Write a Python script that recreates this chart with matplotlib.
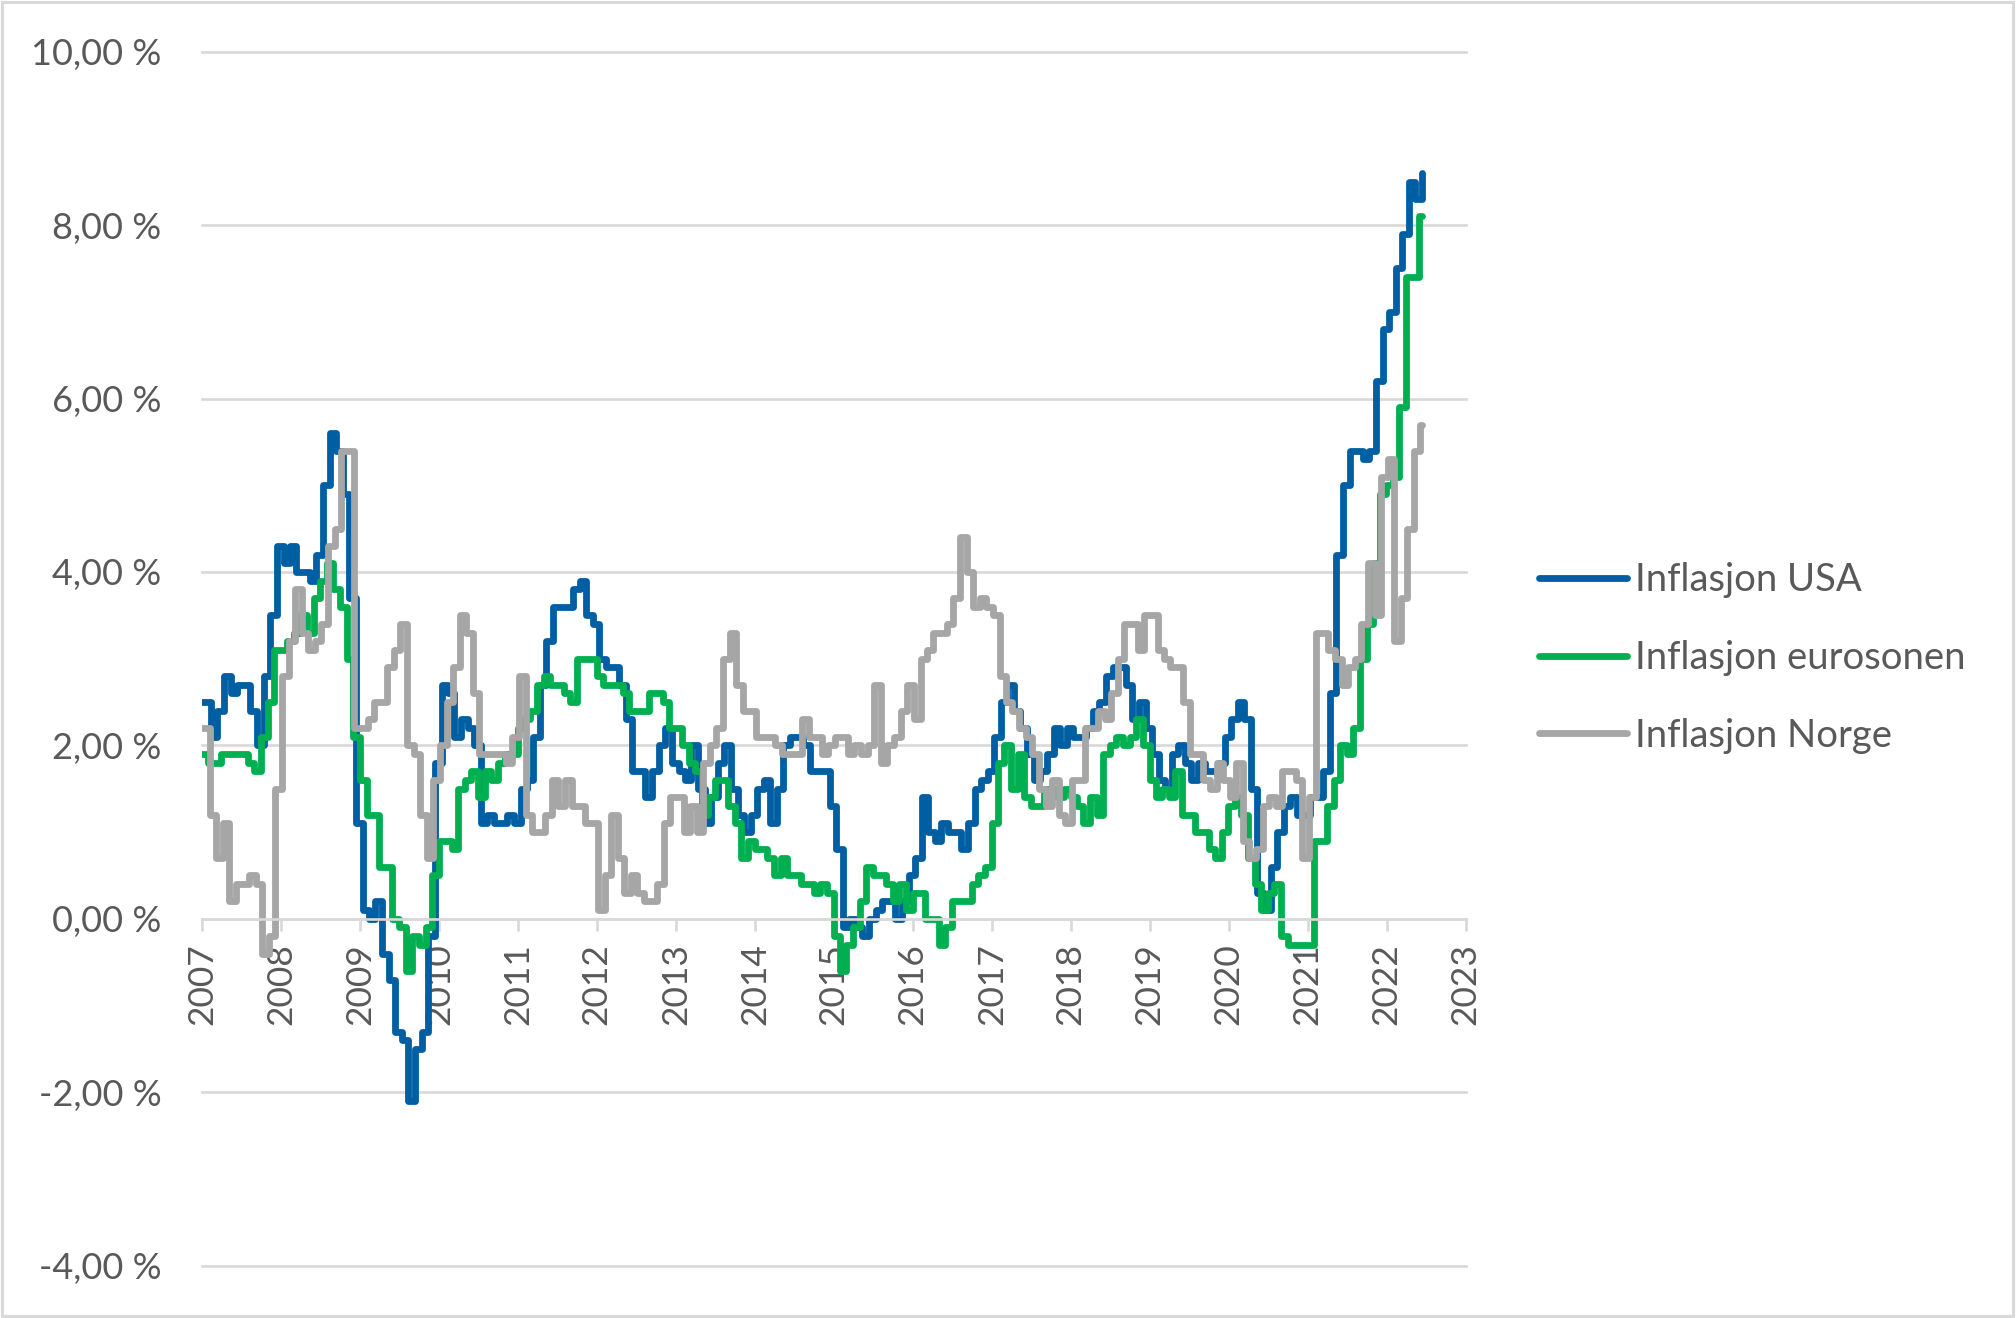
import pandas as pd
import matplotlib
matplotlib.use("Agg")
import matplotlib.pyplot as plt
from matplotlib.patches import Rectangle

plt.rcParams['font.family'] = ['Lato', 'DejaVu Sans']

# ---------------------------------------------------------
# DATA: 12-month inflation in %, monthly, Dec 2006 .. May 2022
# ---------------------------------------------------------
first_month = "2006-12"
last_month = "2022-05"

usa = [2.5,
       2.1, 2.4, 2.8, 2.6, 2.7, 2.7, 2.4, 2.0, 2.8, 3.5, 4.3, 4.1,        # 2007
       4.3, 4.0, 4.0, 3.9, 4.2, 5.0, 5.6, 5.4, 4.9, 3.7, 1.1, 0.1,        # 2008
       0.0, 0.2, -0.4, -0.7, -1.3, -1.4, -2.1, -1.5, -1.3, -0.2, 1.8, 2.7,  # 2009
       2.6, 2.1, 2.3, 2.2, 2.0, 1.1, 1.2, 1.1, 1.1, 1.2, 1.1, 1.5,        # 2010
       1.6, 2.1, 2.7, 3.2, 3.6, 3.6, 3.6, 3.8, 3.9, 3.5, 3.4, 3.0,        # 2011
       2.9, 2.9, 2.7, 2.3, 1.7, 1.7, 1.4, 1.7, 2.0, 2.2, 1.8, 1.7,        # 2012
       1.6, 2.0, 1.5, 1.1, 1.4, 1.8, 2.0, 1.5, 1.2, 1.0, 1.2, 1.5,        # 2013
       1.6, 1.1, 1.5, 2.0, 2.1, 2.1, 2.0, 1.7, 1.7, 1.7, 1.3, 0.8,        # 2014
       -0.1, 0.0, -0.1, -0.2, 0.0, 0.1, 0.2, 0.2, 0.0, 0.2, 0.5, 0.7,     # 2015
       1.4, 1.0, 0.9, 1.1, 1.0, 1.0, 0.8, 1.1, 1.5, 1.6, 1.7, 2.1,        # 2016
       2.5, 2.7, 2.4, 2.2, 1.9, 1.6, 1.7, 1.9, 2.2, 2.0, 2.2, 2.1,        # 2017
       2.1, 2.2, 2.4, 2.5, 2.8, 2.9, 2.9, 2.7, 2.3, 2.5, 2.2, 1.9,        # 2018
       1.6, 1.5, 1.9, 2.0, 1.8, 1.6, 1.8, 1.7, 1.7, 1.8, 2.1, 2.3,        # 2019
       2.5, 2.3, 1.5, 0.3, 0.1, 0.6, 1.0, 1.3, 1.4, 1.2, 1.2, 1.4,        # 2020
       1.4, 1.7, 2.6, 4.2, 5.0, 5.4, 5.4, 5.3, 5.4, 6.2, 6.8, 7.0,        # 2021
       7.5, 7.9, 8.5, 8.3, 8.6]                                          # 2022

eurosonen = [1.9,
             1.8, 1.8, 1.9, 1.9, 1.9, 1.9, 1.8, 1.7, 2.1, 2.5, 3.1, 3.1,
             3.2, 3.3, 3.5, 3.3, 3.7, 3.9, 4.1, 3.8, 3.6, 3.0, 2.1, 1.6,
             1.2, 1.2, 0.6, 0.6, 0.0, -0.1, -0.6, -0.2, -0.3, -0.1, 0.5, 0.9,
             0.9, 0.8, 1.5, 1.6, 1.7, 1.4, 1.7, 1.6, 1.8, 1.9, 1.9, 2.2,
             2.3, 2.4, 2.7, 2.8, 2.7, 2.7, 2.6, 2.5, 3.0, 3.0, 3.0, 2.8,
             2.7, 2.7, 2.7, 2.6, 2.4, 2.4, 2.4, 2.6, 2.6, 2.5, 2.2, 2.2,
             2.0, 1.8, 1.7, 1.2, 1.4, 1.6, 1.6, 1.3, 1.1, 0.7, 0.9, 0.8,
             0.8, 0.7, 0.5, 0.7, 0.5, 0.5, 0.4, 0.4, 0.3, 0.4, 0.3, -0.2,
             -0.6, -0.3, -0.1, 0.2, 0.6, 0.5, 0.5, 0.4, 0.2, 0.4, 0.1, 0.3,
             0.3, 0.0, 0.0, -0.3, -0.1, 0.2, 0.2, 0.2, 0.4, 0.5, 0.6, 1.1,
             1.8, 2.0, 1.5, 1.9, 1.4, 1.3, 1.3, 1.5, 1.5, 1.4, 1.5, 1.4,
             1.3, 1.1, 1.4, 1.2, 1.9, 2.0, 2.1, 2.0, 2.1, 2.3, 2.0, 1.6,
             1.4, 1.5, 1.4, 1.7, 1.2, 1.2, 1.0, 1.0, 0.8, 0.7, 1.0, 1.3,
             1.4, 1.2, 0.7, 0.4, 0.1, 0.3, 0.4, -0.2, -0.3, -0.3, -0.3, -0.3,
             0.9, 0.9, 1.3, 1.6, 2.0, 1.9, 2.2, 3.0, 3.4, 4.1, 4.9, 5.0,
             5.1, 5.9, 7.4, 7.4, 8.1]

norge = [2.2,
         1.2, 0.7, 1.1, 0.2, 0.4, 0.4, 0.5, 0.4, -0.4, -0.2, 1.5, 2.8,
         3.2, 3.8, 3.3, 3.1, 3.2, 3.4, 4.3, 4.5, 5.4, 5.4, 2.2, 2.2,
         2.3, 2.5, 2.5, 2.9, 3.1, 3.4, 2.0, 1.9, 1.2, 0.7, 1.6, 2.0,
         2.5, 2.9, 3.5, 3.3, 2.6, 1.9, 1.9, 1.9, 1.9, 1.8, 2.1, 2.8,
         1.2, 1.0, 1.0, 1.2, 1.6, 1.3, 1.6, 1.3, 1.3, 1.1, 1.1, 0.1,
         0.5, 1.2, 0.7, 0.3, 0.5, 0.3, 0.2, 0.2, 0.4, 1.1, 1.4, 1.4,
         1.0, 1.3, 1.0, 1.8, 2.0, 2.2, 3.0, 3.3, 2.7, 2.4, 2.4, 2.1,
         2.1, 2.1, 2.0, 1.9, 1.9, 1.9, 2.3, 2.1, 2.1, 1.9, 2.0, 2.1,
         2.1, 1.9, 2.0, 1.9, 2.0, 2.7, 1.8, 2.0, 2.1, 2.4, 2.7, 2.3,
         3.0, 3.1, 3.3, 3.3, 3.4, 3.7, 4.4, 4.0, 3.6, 3.7, 3.6, 3.5,
         2.8, 2.5, 2.4, 2.2, 2.1, 1.9, 1.5, 1.3, 1.6, 1.2, 1.1, 1.6,
         1.6, 2.2, 2.2, 2.4, 2.3, 2.6, 3.0, 3.4, 3.4, 3.1, 3.5, 3.5,
         3.1, 3.0, 2.9, 2.9, 2.5, 1.9, 1.9, 1.6, 1.5, 1.8, 1.6, 1.4,
         1.8, 0.9, 0.7, 0.8, 1.3, 1.4, 1.3, 1.7, 1.7, 1.6, 0.7, 1.4,
         3.3, 3.3, 3.1, 3.0, 2.7, 2.9, 3.0, 3.4, 4.1, 3.5, 5.1, 5.3,
         3.2, 3.7, 4.5, 5.4, 5.7]

series_names = ["Inflasjon USA", "Inflasjon eurosonen", "Inflasjon Norge"]
series_values = [usa, eurosonen, norge]
series_colors = ["#005EA2", "#00B050", "#A6A6A6"]
# days after the end of the month until the figure shows up in the series
publish_lag = [12, -1, 5]

y_ticks = [-4, -2, 0, 2, 4, 6, 8, 10]
x_years = list(range(2007, 2024))

start_date = pd.Timestamp("2007-01-01")
end_date = pd.Timestamp("2022-06-13")

# ---------------------------------------------------------
# PLOT
# ---------------------------------------------------------
text_col = "#595959"
grid_col = "#D9D9D9"

fig = plt.figure(figsize=(20.16, 13.18), dpi=100)
ax = fig.add_axes([0.1002, 0.0397, 0.6268, 0.9211])

months = pd.period_range(first_month, last_month, freq="M")

for name, vals, col, lag in zip(series_names, series_values, series_colors, publish_lag):
    dates = list((months + 1).to_timestamp() + pd.Timedelta(days=lag))
    dates[0] = start_date
    dates.append(end_date)
    yy = list(vals) + [vals[-1]]
    ax.plot(dates, yy, drawstyle="steps-post", color=col, lw=4.9,
            solid_capstyle="round", solid_joinstyle="round", label=name)

ax.set_xlim(start_date, pd.Timestamp("2023-01-01"))
ax.set_ylim(-4, 10)

# y axis: gridlines + labels only
ax.set_yticks(y_ticks)
ax.set_yticklabels([f"{v:.2f}".replace(".", ",") + " %" for v in y_ticks])
ax.yaxis.grid(True, color=grid_col, lw=1.9)
for gl in ax.get_ygridlines():
    gl.set_clip_on(False)
ax.set_axisbelow(True)
ax.tick_params(axis="y", length=0, pad=29, labelsize=26, labelcolor=text_col)

# x axis crossing at 0
ax.set_xticks([pd.Timestamp(f"{y}-01-01") for y in x_years])
ax.set_xticklabels([str(y) for y in x_years])
ax.tick_params(axis="x", direction="out", length=8.6, width=1.9, color=grid_col,
               pad=9, labelsize=25.5, labelcolor=text_col, labelrotation=90)

for s in ["left", "right", "top"]:
    ax.spines[s].set_visible(False)
ax.spines["bottom"].set_position(("data", 0))
ax.spines["bottom"].set_color(grid_col)
ax.spines["bottom"].set_linewidth(1.9)

handles, labels = ax.get_legend_handles_labels()
fig.legend(handles, labels, loc="center left", bbox_to_anchor=(0.7634, 0.5008),
           frameon=False, fontsize=27.5, handlelength=2.3, handletextpad=0.2,
           labelspacing=1.09, borderpad=0, borderaxespad=0, labelcolor=text_col)

# chart area border
fig.patches.append(Rectangle((0.0008, 0.0012), 0.9975, 0.9975, transform=fig.transFigure,
                             fill=False, ec=grid_col, lw=2.2))

fig.savefig("out.png", dpi=100)
